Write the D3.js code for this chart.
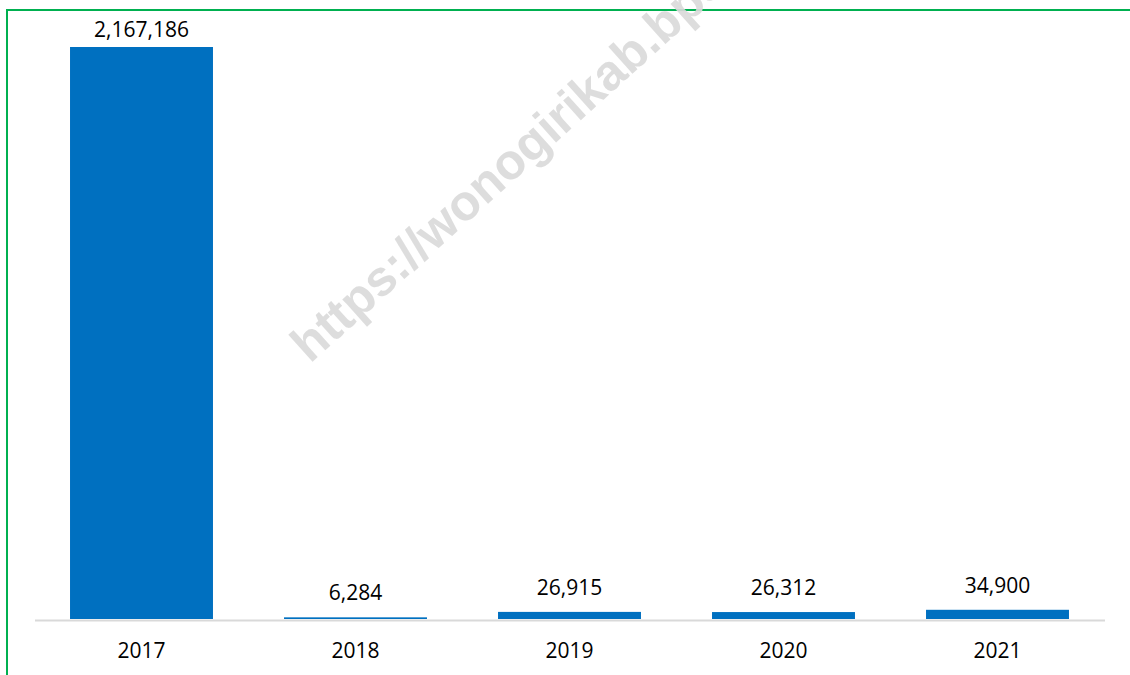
<html>
<head>
<script src="https://cdn.jsdelivr.net/npm/d3@7"></script>
<style>
  body { margin: 0; background: #fff; }
  text { font-family: "Open Sans", sans-serif; }
</style>
</head>
<body>
<script>
// data
var years = ["2017", "2018", "2019", "2020", "2021"];
var values = [2167186, 6284, 26915, 26312, 34900];

var w = 1130, h = 675;
var baseY = 619;   // bottom of bars
var topY = 47;     // top of tallest bar

var svg = d3.select("body").append("svg").attr("width", w).attr("height", h);

var data = years.map(function(y, i){ return {year: y, value: values[i]}; });

var xScale = d3.scaleBand().domain(years).range([34.5, 1104.5]).paddingInner(0.332).paddingOuter(0.166);
var yScale = d3.scaleLinear().domain([0, d3.max(values)]).range([baseY, topY]);

// green frame (top and left edges visible)
svg.append("line").attr("x1", 6).attr("x2", w).attr("y1", 10).attr("y2", 10)
  .attr("stroke", "#00b050").attr("stroke-width", 2);
svg.append("line").attr("x1", 7).attr("x2", 7).attr("y1", 9).attr("y2", h)
  .attr("stroke", "#00b050").attr("stroke-width", 2);

// bars
svg.selectAll("rect.bar").data(data).enter().append("rect")
  .attr("class", "bar")
  .attr("x", function(d){ return xScale(d.year); })
  .attr("width", xScale.bandwidth())
  .attr("y", function(d){ return yScale(d.value); })
  .attr("height", function(d){ return baseY - yScale(d.value); })
  .attr("fill", "#0070c0");

// x axis
var xAxis = d3.axisBottom(xScale).tickSize(0).tickPadding(0);
var gx = svg.append("g").attr("transform", "translate(0," + (baseY + 1) + ")").call(xAxis);
gx.select(".domain").attr("stroke", "#d9d9d9").attr("stroke-width", 2);
gx.selectAll(".tick text")
  .attr("y", 38).attr("dy", 0)
  .attr("font-size", "21px").attr("fill", "#000")
  .style("font-family", "'Open Sans', sans-serif");

// value labels
svg.selectAll("text.val").data(data).enter().append("text")
  .attr("class", "val")
  .attr("x", function(d){ return xScale(d.year) + xScale.bandwidth() / 2; })
  .attr("y", function(d){ return Math.max(yScale(d.value) - 17, 37); })
  .attr("text-anchor", "middle")
  .attr("font-size", "21px")
  .attr("fill", "#000")
  .text(function(d){ return d3.format(",")(d.value); });

// watermark
svg.append("text")
  .attr("transform", "translate(310,364) rotate(-42)")
  .attr("font-family", "'Liberation Sans', Arial, sans-serif")
  .style("font-family", "'Liberation Sans', Arial, sans-serif")
  .attr("font-weight", "bold")
  .attr("font-size", "50px")
  .attr("fill", "#d9d9d9")
  .attr("fill-opacity", 0.9)
  .text("https://wonogirikab.bps.go.id");
</script>
</body>
</html>
